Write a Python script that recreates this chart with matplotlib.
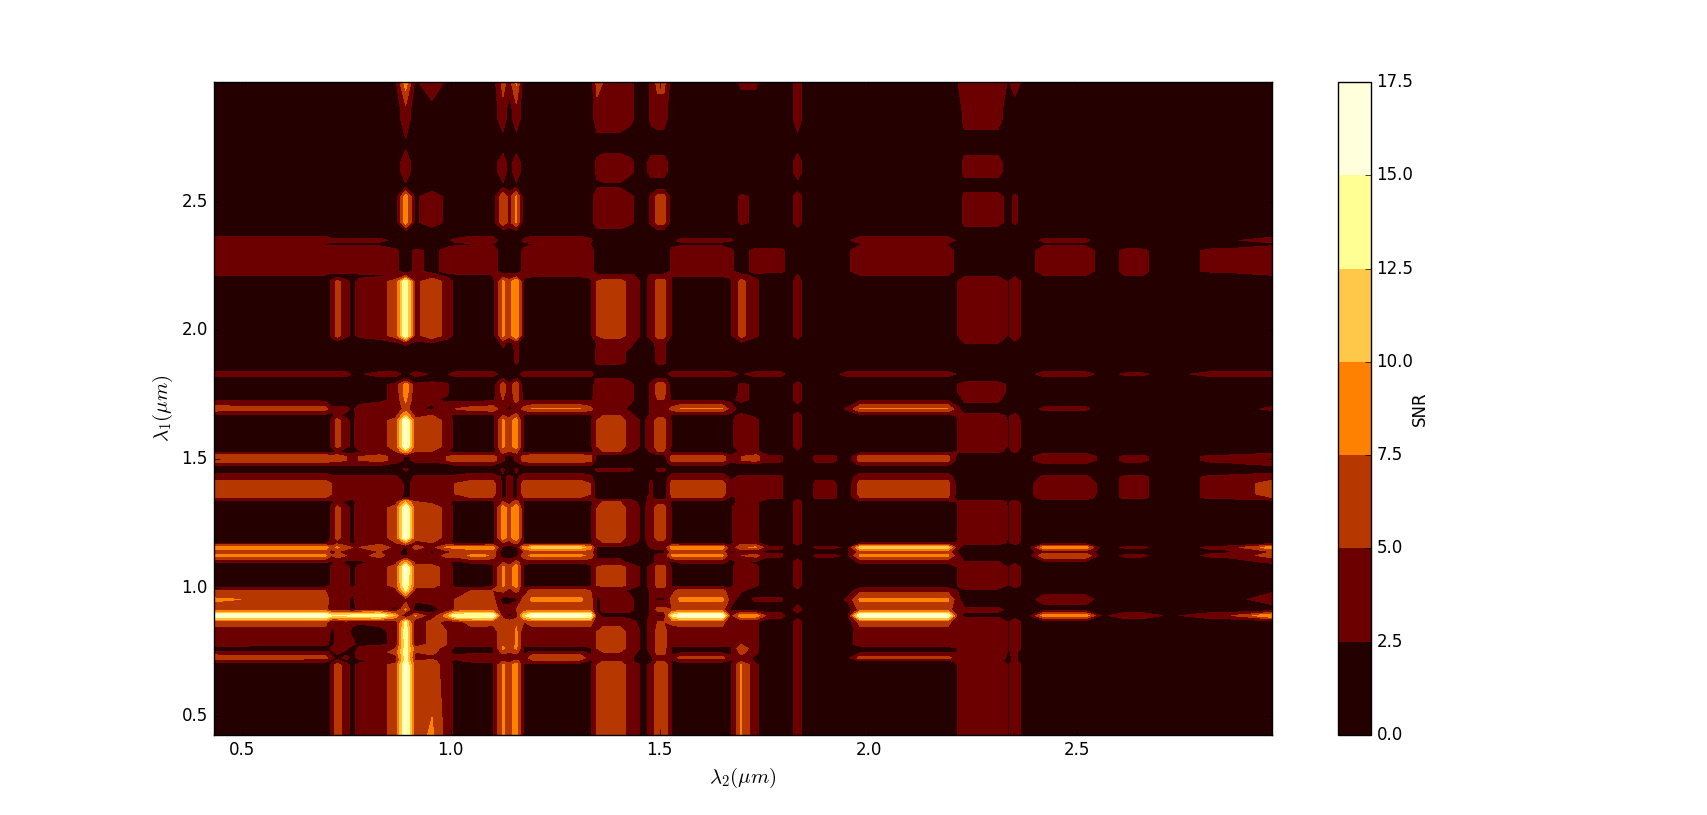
import numpy as np
import matplotlib
matplotlib.use('Agg')
import matplotlib.pyplot as plt

plt.style.use('classic')
plt.rcParams['mathtext.fontset'] = 'cm'
plt.rcParams['font.family'] = 'DejaVu Sans'

# wavelength nodes (um), shared by both axes
wavelength = [0.43, 0.70, 0.715, 0.728, 0.75, 0.765, 0.78, 0.83, 0.868, 0.892, 0.915, 0.955, 0.99,
              1.01, 1.05, 1.10, 1.125, 1.14, 1.157, 1.175, 1.25, 1.335, 1.35, 1.39, 1.43, 1.46,
              1.48, 1.51, 1.53, 1.60, 1.67, 1.695, 1.73, 1.76, 1.81, 1.83, 1.85, 1.895, 1.95,
              2.095, 2.215, 2.27, 2.335, 2.35, 2.38, 2.47, 2.56, 2.635, 2.72, 2.85, 2.966]

# flat stretches: these wavelengths read the same as the node listed next to them
flat_wavelength = [1.08, 1.195, 1.31, 1.365, 1.405, 1.495, 1.55, 1.65, 1.79, 1.875,
                   1.915, 1.98, 2.19, 2.23, 2.31, 2.42, 2.52, 2.615, 2.655, 2.82]
flat_node = [14, 20, 20, 23, 23, 27, 29, 29, 33, 37,
             37, 39, 39, 41, 41, 45, 45, 47, 47, 49]

# SNR, one row per lambda_1 node, one column per lambda_2 node
snr_read = np.array([
    [1,1,3,6.5,3,2,3,4,6, 16, 6,8,4, 2,1,2, 8,6,9, 2,1,2, 5,6,4,2, 3,7, 2,1,2, 7.6,3,1, 1,4,1,1,1, 1,2.6,4,2.3,4,1, 1,1,1,1,1,1],
    [1,1,3,6.5,3,2,3,4,6, 16, 6,6,4, 2,1,2, 8,6,9, 2,1,2, 5,6,4,2, 3,7, 2,1,2, 7.6,3,1, 1,4,1,1,1, 1,2.6,4,2.3,4,1, 1,1,1,1,1,1],
    [3,3,2,3,2,1,2,3,4, 14, 5,6,3, 2,3,3, 5,4,6, 3,4,2, 4,5,3,1, 2,5, 2,3,2, 5,2,1, 1,4,1,1,1, 2,3,3,2,3,1, 1,1,1,1,1,1],
    [7,6,3,2,3,2,3,3,4, 14, 4,4,3, 3,4,4, 3,2,3, 3,7,3, 3,4,3,1, 2,4, 3,6,3, 4,2,1, 1,4,1,1,2, 6,3,4,2,3,1, 1,1,1,1,1,1],
    [3,3,2,3,2,2,3,4,6, 14, 5,6,3, 2,2,2, 6,5,6, 2,3,2, 5,5,4,1, 3,6, 2,2,2, 6,3,1, 1,4,1,1,1, 2,2.6,4,2.3,3,1, 1,1,1,1,1,1],
    [1,1,3,5,3,1,3,4,5, 14, 6,6,4, 2,1,2, 8,6,8, 2,1,2, 5,6,4,2, 3,6, 2,1,2, 7,3,1, 1,4,1,1,1, 1,2.6,4,2.3,4,1, 1,1,1,1,1,1],
    [4,3,2,3,3,3,2,2,3, 14, 3,6,5, 3,4,3, 7,5,8, 3,4,4, 5,6,4,2, 3,6, 3,4,3, 5,3,1, 1,4,1,1,1, 4,2.6,4,2.3,4,1, 1,1,1,1,1,1],
    [4,4,2,3,3,2,1,2,3, 15, 3,6,5, 3,4,3, 7,5,8, 3,4,4, 5,6,4,2, 3,6, 3,4,3, 5,3,1, 1,4,1,1,1, 4,2.6,4,2.3,4,1, 1,1,1,1,1,1],
    [6,6,3,3,4,3,3,3,3, 13, 3,6,4, 4,6,6, 7,6,7, 5,6,6, 3,4,3,2, 3,5, 6,6,3, 3,3,1, 1,4,1,1,1, 6,2.6,4,2.3,4,1, 1,1,1,1,1,1],
    [16,16,13,13,13,14,14,15,10, 1, 8,3,9, 15,15,16, 3,2,3, 12,16,15, 3,2,2,1, 3,2, 13,16,4, 9,9,4, 1,1,1,1,2, 16,3,2,1,1,1, 9,2,4,2,4,10],
    [6,6,3,3,3,2,3,4,2, 8, 1,2,3, 5,6,6, 4,3,5, 6,6,6, 2,3,3,1, 3,6, 5,6,2, 2,1,1, 1,4,1,1,1, 6,3,3,2,1,1, 1,1,1,1,1,1],
    [8,6,4,4,3,2,4,5,3, 4, 3,3,4, 5,6,6, 1,2,2, 6,8,6, 2,3,3,1, 3,2, 6,8,4, 1,3,3, 1,1,1,1,3, 8,3,1,1,1,1, 4,1,1,1,1,4],
    [5,5,3,3,3,3,3,3,4, 13, 4,4,3, 3,5,5, 6,4,6, 3,6,5, 3,3,2,1, 3,4, 4,6,3, 3,1,1, 1,2,1,1,1, 4,2.3,2,1,1,1, 1,1,1,1,1,2],
    [1,1,3,4,3,2,3,4,6, 15, 6,6,4, 2,1,2, 8,6,9, 2,1,2, 5,6,4,2, 3,6, 2,1,2, 4,3,1, 1,4,1,1,1, 1,2.6,4,2.3,4,1, 1,1,1,1,1,1],
    [1,1,3,4,3,2,3,4,6, 16, 6,6,4, 2,1,2, 8,6,9, 2,1,2, 5,6,4,2, 3,6, 2,1,2, 4,3,1, 1,4,1,1,1, 1,2.6,4,2.3,4,1, 1,1,1,1,1,1],
    [2.8,2.8,2,3,2,2,2,3,4, 10, 4,4,3, 2,3,3, 5,3,6, 3,3,3, 3,3,2,1, 2,3, 2,3,2, 3,2,1, 1,4,1,1,1, 3,2.6,2.6,2,2,1, 2,1,1,1,1,3],
    [8,8,5,6,5,5,4,6,3, 2, 5,3,6, 6,8,7, 1,2,1, 7,8,7, 2,2,2,1, 2,3, 8,8,3, 5,6,3, 1,1,1,3,2, 8,3,1,1,1,1, 7,1,3,1,3,6],
    [6,6,4,5,4,3,3,5,3, 2, 4,2,4, 5,6,6, 1,1,1, 5,6,6, 2,1,1,1, 1,2, 6,6,2, 3,3,2, 1,1,1,1,2, 6,2,1,1,1,1, 4,1,1,1,2,5],
    [9,9,6,8,6,5,5,7,4, 2, 6,4,8, 8,9,9, 2,1,2, 9,11,9, 2,2,2,1, 3,3, 9,9,3, 7,8,3, 1,1,1,3,2, 11,3,1,1,1,1, 9,1,3,1,3,9],
    [2,2,3,4,3,2,3,4,5, 8, 4,5,3, 2,1,2, 5,4,6, 2,1,2, 4,5,3,2, 3,4, 2,1,2, 4,3,1, 1,4,1,1,1, 2,2.6,3.5,2.3,3.5,1, 1,1,1,1,1,1],
    [1,1,3,6,3,2,4,4,6, 16, 6,7,4, 2,1,1, 9,6,10, 2,1,2, 5,6,4,2, 4,6, 2,1,2, 5,3,1, 1,4,1,1,1, 1,2.6,4,2.3,4,1, 1,1,1,1,1,1],
    [2,2,2,3,2,2,3,3,4, 10, 5,4,3, 2,2,2, 5,4,6, 2,2,2, 4,5,3,2, 3,4, 2,2,2, 3,3,1, 1,4,1,1,1, 2,2.6,3.5,2.3,3.5,1, 1,1,1,1,1,1],
    [5,5,4,4,4,3,3,3,3, 2, 3,3,3, 4,5,5, 2,3,2, 5,5,5, 1,1,2,2, 3,1, 5,5,2, 3,3,3, 1,1,1,3,1, 5,1,1,1,1,1, 4,1,3,1,3,5],
    [6,6,5,5,5,5,5,5,4, 2, 3,3,4, 5,6,6, 2,3,2, 6,6,5, 1,1,1,1, 3,1, 6,6,3, 4,3,3, 1,1,1,3,1, 6,1,1,1,1,1, 5,1,3,1,3,6],
    [4,4,3,3,3,3,3,3,3, 1, 3,3,3, 3,4,4, 2,3,2, 4,4,3, 1,1,1,1, 2,1, 4,4,2, 3,3,3, 1,1,1,2,1, 4,1,1,1,1,1, 3,1,3,1,3,4],
    [1,1,1,1,1,1,1,1,1, 3, 1,1,1, 1,1,1, 3,1,3, 1,1,1, 3,3,3,1, 1,3, 1,1,1, 1,1,1, 1,1,1,1,1, 1,1,1,1,1,1, 1,1,1,1,1,1],
    [3,3,3,3,3,3,3,3,2, 1, 2,2,2, 3,3,3, 1,2,1, 3,3,3, 1,1,1,1, 1,1, 3,3,2, 2,2,2, 1,1,1,2,1, 3,1,1,1,1,1, 2,1,2,1,2,3],
    [7,7,6,6,5,5,5,6,4, 2, 3,3,5, 6,6,6, 3,1,3, 6,7,6, 1,1,1,1, 1,1, 6,6,3, 5,6,3, 1,1,1,3,1, 6,1,1,1,1,1, 5,1,3,1,3,5],
    [1,1,1,3,1,1,2,3,5, 10, 5,5,3, 1,1,1, 6,5,6, 1,1,1, 4,5,3,1, 3,5, 1,1,1, 3,3,1, 1,2,1,1,1, 1,2.6,3,2,3,1, 1,1,1,1,1,1],
    [1,1,3,6,3,2,4,4,6, 16, 6,7,4, 2,1,1, 8,6,9, 2,1,2, 5,6,4,2, 4,6, 2,1,2, 4,3,1, 1,4,1,1,1, 1,2.6,4,2.3,4,1, 1,1,1,1,1,1],
    [2,2,2,3,2,2,3,3,4, 10, 4,5,3, 2,2,2, 5,4,6, 2,2,2, 4,5,3,1, 3,4, 2,2,2, 3,2,1, 1,4,1,1,1, 2,2.6,3,2.3,3,1, 1,1,1,1,1,1],
    [6.5,6,3,3,3,2,4,4,3, 6, 3,2,4, 5,6,7, 3,2,3, 6,7.6,6, 3,3,2,1, 3,3, 6,7.6,4, 1,1,2, 1,1,1,1,3, 7.6,3,1,1,1,1, 3,1,1,1,1,3],
    [2,2,1,1,1,1,1,2,3, 8, 3,3,2, 2,2,2, 5,3,6, 2,2,2, 4,4,3,1, 3,5, 2,2,2, 3,2,1, 1,4,1,1,1, 2,1,3,1,2,1, 1,1,1,1,1,1],
    [1,1,1,1,1,1,1,2,3, 9, 3,4,3, 1,1,1, 6,3,7, 1,1,1, 4,4,3,1, 3,6, 1,1,1, 3,2,1, 1,4,1,1,1, 1,2.6,4,2,2,1, 1,1,1,1,1,1],
    [1,1,1,1,1,1,1,1,1, 3, 1,1,1, 1,1,1, 3,1,3, 1,1,1, 3,3,2,1, 2,3, 1,1,1, 1,1,1, 1,1,1,1,1, 1,1,1,1,1,1, 1,1,1,1,1,1],
    [4,4,4,4,4,2,2,4,4, 1, 4,2,2, 4,4,4, 1,1,1, 4,4,4, 1,1,1,1, 1,1, 4,4,4, 2,4,4, 1,1,1,1,4, 4,2,1,1,1,1, 4,1,3,1,4,4],
    [1,1,1,1,1,1,1,1,1, 1, 1,1,1, 1,1,1, 1,1,1, 1,1,1, 1,1,1,1, 1,1, 1,1,1, 1,1,1, 1,1,1,1,1, 1,1,1,1,1,1, 1,1,1,1,1,1],
    [1,1,1,1,1,1,1,1,1, 1, 1,1,1, 1,1,1, 2,1,3, 1,1,1, 3,3,2,1, 1,3, 1,1,1, 1,1,1, 1,1,1,1,1, 1,1,1,1,1,1, 1,1,1,1,1,1],
    [1,1,1,1,1,1,1,1,2, 3, 2,2,1, 1,1,1, 3,2,3, 1,1,1, 2.6,3,3,1, 2,3, 1,1,1, 2,1,1, 1,1,1,1,1, 1,1,2.6,1,2,1, 1,1,1,1,1,1],
    [1,1,3,6,3,2,3,4,6, 15, 4,7,4, 2,1,1, 8,6,10, 2,1,2, 5,6,4,2, 3,6, 2,1,2, 6,3,1, 1,4,1,1,1, 1,2.6,4,2.3,4,1, 1,1,1,1,1,1],
    [2.6,2.6,1,1,1,1,2,2,3, 4, 3,3,2, 2,2,2.6, 3,3,3, 3,3,3, 3,3,3,1, 3,3, 2.6,3,3, 3,2,1, 1,2.6,1,1,1, 2.6,1,2,1,2,1, 2.6,1,2.6,1,1,2.6],
    [4,4,4,4,4,4,4,4,3, 1, 3,2,3, 4,4,4, 1,2,1, 3,4,4, 1,1,1,1, 1,1, 3,4,3, 1,3.5,3.5, 1,1,1,1,2, 4,1,1,1,1,1, 4,1,3,1,3,4],
    [2.3,2.3,2,2,2,2,2,2,1, 1, 1,1,2, 2,2.3,2.3, 1,1,1, 2,2.3,2.3, 1,1,1,1, 1,1, 2,2,1, 1,1,1, 1,1,1,1,1, 2.3,1,1,1,1,1, 2,1,1,1,1,2],
    [4,4,3,3,3,3,3,3,2, 1, 1,1,2, 3,4,4, 1,1,1, 3,4,3, 1,1,1,1, 1,1, 2,3,3, 1,1,1, 1,1,1,1,2, 4,2,1,1,1,1, 3,1,1,1,2,3.5],
    [1,1,1,1,1,1,1,1,1, 1, 1,1,1, 1,1,1, 1,1,1, 1,1,1, 1,1,1,1, 1,1, 1,1,1, 1,1,1, 1,1,1,1,1, 1,1,1,1,1,1, 1,1,1,1,1,1],
    [1,1,1,1,1,1,1,1,1, 9, 2,4,2, 1,1,1, 7,4,8, 1,1,1, 5,5,3,1, 3,6, 1,1,1, 3,2,1, 1,4,1,1,1, 1,1,3.5,1.5,3,1, 1,1,1,1,1,1],
    [1,1,1,1,1,1,1,1,1, 2, 1,1,1, 1,1,1, 2,1,2, 1,1,1, 2,2,1,1, 1,1, 1,1,1, 1,1,1, 1,1,1,1,1, 1,1,1,1,1,1, 1,1,1,1,1,1],
    [1,1,1,1,1,1,1,1,1, 4, 1,1,1, 1,1,1, 4,1,4, 1,1,1, 3,4,3,1, 3.5,3.5, 1,1,1, 1,1,1, 1,4,1,1,1, 1,1,3.5,1,1,1, 1,1,1,1,1,1],
    [1,1,1,1,1,1,1,1,1, 2, 1,1,1, 1,1,1, 1,1,1, 1,1,1, 1,1,1,1, 1,1, 1,1,1, 1,1,1, 1,1,1,1,1, 1,1,1,1,1,1, 1,1,1,1,1,1],
    [1,1,1,1,1,1,1,1,1, 4, 1,1,1, 1,1,1, 4,1,4, 1,1,1, 4,4,3,1, 3,3.5, 1,1,1, 1,1,1, 1,4,1,1,1, 1,1,3.5,1,1,1, 1,1,1,1,1,1],
    [1,1,1,1,1,1,1,1,2, 9, 2,5,2, 1,1,1, 6,4,8, 1,1,1, 6,5,3,1, 3,6, 1,1,1, 3,3,1, 1,4,1,1,1, 1,2.6,4,2.3,4,1, 1,1,1,1,1,1],
])

levels = [0, 2.5, 5, 7.5, 10, 12.5, 15, 17.5]
ticks_major = [0.5, 1.0, 1.5, 2.0, 2.5]

# put the flat stretches in wavelength order
all_wavelength = np.array(wavelength + flat_wavelength)
source = np.array(list(range(len(wavelength))) + flat_node)
order = np.argsort(all_wavelength)
lam = all_wavelength[order]
snr = snr_read[source[order]][:, source[order]]

fig = plt.figure(figsize=(17.07, 8.15), dpi=100, facecolor='white')
ax = fig.add_axes([213.5 / 1707, 80 / 815, 1058.5 / 1707, 653 / 815])
cs = ax.contourf(lam, lam, snr, levels=levels, cmap='afmhot')
ax.set_xlim(0.432, 2.966)
ax.set_ylim(0.428, 2.965)
ax.set_xticks(ticks_major)
ax.set_yticks(ticks_major)
ax.tick_params(labelsize=12)
ax.set_xlabel(r'$\lambda_2(\mu m)$', fontsize=15)
ax.set_ylabel(r'$\lambda_1(\mu m)$', fontsize=15)

cax = fig.add_axes([1338 / 1707, 80 / 815, 33 / 1707, 653 / 815])
cbar = fig.colorbar(cs, cax=cax)
cbar.set_ticks(levels)
cbar.set_ticklabels(['%.1f' % v for v in levels])
cbar.ax.tick_params(labelsize=12)
cbar.set_label('SNR', fontsize=12, labelpad=-2)

fig.savefig('out.png', dpi=100)
